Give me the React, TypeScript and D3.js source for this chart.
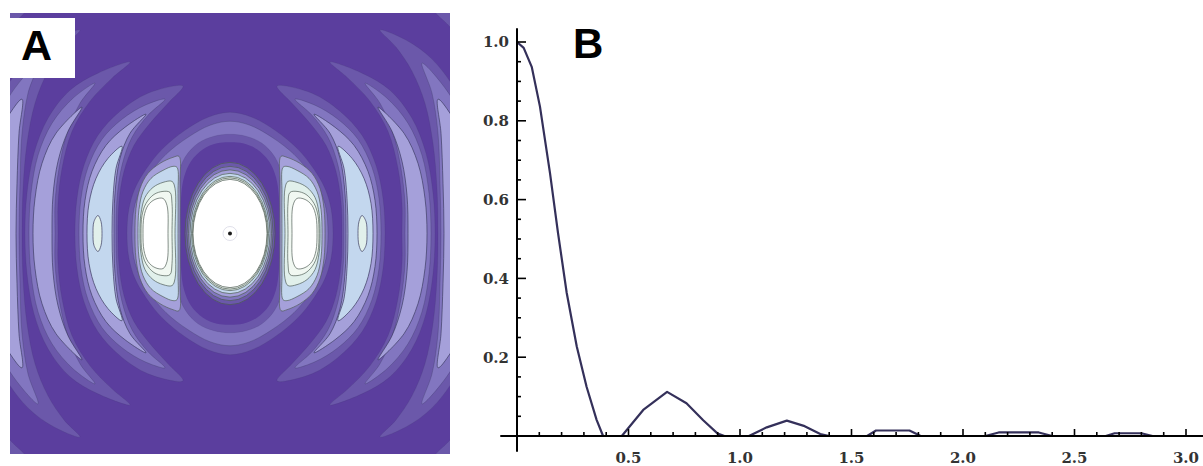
import * as d3 from 'd3';

// ---- panel A: contour bands (right half, upper quarter; mirrored when drawn)
// levels: 0 darkest .. 7 white
const levelFill = ['#5b3e9e', '#6b58aa', '#8276c0', '#a5a0da', '#c3d7ee', '#e1f0eb', '#f1f8f2', '#ffffff'];
const levelStroke = [0, 0.15, 0.3, 0.7, 0.75, 0.75, 0.75, 0.75];

type Pt = [number, number];
type Band = { level: number; pts: Pt[] };

const lobe1: Band[] = [
  { level: 3, pts: [[0.95, 0], [0.94, 0.25], [0.9, 0.45], [0.82, 0.6], [0.7, 0.7], [0.57, 0.76], [0.51, 0.77], [0.5, 0.5], [0.5, 0]] },
  { level: 4, pts: [[0.92, 0], [0.91, 0.24], [0.87, 0.42], [0.79, 0.55], [0.67, 0.63], [0.57, 0.67], [0.53, 0.66], [0.52, 0.4], [0.52, 0]] },
  { level: 5, pts: [[0.9, 0], [0.89, 0.2], [0.85, 0.36], [0.77, 0.46], [0.67, 0.51], [0.58, 0.52], [0.55, 0.45], [0.55, 0]] },
  { level: 6, pts: [[0.89, 0], [0.88, 0.18], [0.84, 0.3], [0.76, 0.39], [0.67, 0.42], [0.6, 0.41], [0.58, 0.3], [0.58, 0]] },
  { level: 7, pts: [[0.87, 0], [0.86, 0.17], [0.82, 0.28], [0.75, 0.34], [0.67, 0.35], [0.63, 0.28], [0.62, 0]] },
];

const lobe2: Band[] = [
  { level: 1, pts: [[1.55, 0], [1.53, 0.35], [1.46, 0.68], [1.32, 0.98], [1.1, 1.22], [0.82, 1.4], [0.47, 1.47], [0.62, 1.3], [0.8, 1.1], [0.96, 0.88], [1.06, 0.62], [1.11, 0.32], [1.12, 0]] },
  { level: 2, pts: [[1.51, 0], [1.49, 0.35], [1.42, 0.66], [1.28, 0.94], [1.08, 1.14], [0.85, 1.28], [0.65, 1.34], [0.82, 1.18], [0.98, 0.96], [1.08, 0.68], [1.13, 0.35], [1.14, 0]] },
  { level: 3, pts: [[1.47, 0], [1.45, 0.33], [1.38, 0.62], [1.24, 0.88], [1.05, 1.06], [0.84, 1.19], [1.0, 1.0], [1.1, 0.75], [1.15, 0.4], [1.16, 0]] },
  { level: 4, pts: [[1.43, 0], [1.41, 0.3], [1.34, 0.55], [1.22, 0.75], [1.08, 0.87], [1.14, 0.65], [1.17, 0.35], [1.18, 0]] },
  { level: 5, pts: [[1.37, 0], [1.36, 0.12], [1.32, 0.18], [1.29, 0.12], [1.28, 0]] },
];

const lobe3: Band[] = [
  { level: 1, pts: [[2.05, 0], [2.03, 0.4], [1.96, 0.8], [1.82, 1.15], [1.6, 1.43], [1.32, 1.6], [1.0, 1.71], [1.18, 1.55], [1.4, 1.32], [1.58, 1.02], [1.68, 0.65], [1.72, 0.3], [1.72, 0]] },
  { level: 2, pts: [[2.01, 0], [1.99, 0.4], [1.92, 0.78], [1.78, 1.1], [1.57, 1.35], [1.35, 1.5], [1.5, 1.3], [1.63, 1.0], [1.71, 0.65], [1.75, 0.3], [1.75, 0]] },
  { level: 3, pts: [[1.97, 0], [1.95, 0.35], [1.88, 0.7], [1.74, 1.0], [1.48, 1.26], [1.62, 1.02], [1.72, 0.72], [1.77, 0.38], [1.78, 0]] },
];

const lobe4: Band[] = [
  { level: 1, pts: [[2.55, 0], [2.52, 0.5], [2.43, 1.0], [2.26, 1.42], [2.02, 1.74], [1.76, 1.93], [1.5, 2.03], [1.66, 1.86], [1.82, 1.62], [1.95, 1.3], [2.03, 0.9], [2.07, 0.45], [2.08, 0]] },
  { level: 2, pts: [[2.5, 0], [2.47, 0.5], [2.38, 0.98], [2.2, 1.38], [1.92, 1.7], [2.02, 1.4], [2.08, 1.0], [2.1, 0.5], [2.11, 0]] },
  { level: 3, pts: [[2.45, 0], [2.42, 0.5], [2.33, 0.95], [2.2, 1.2], [2.08, 1.34], [2.11, 1.0], [2.13, 0.5], [2.14, 0]] },
];

const lobe5: Band[] = [
  { level: 1, pts: [[3.0, 0], [2.96, 0.8], [2.82, 1.45], [2.6, 1.9], [2.35, 2.15], [2.03, 2.24], [2.2, 2.06], [2.4, 1.8], [2.55, 1.4], [2.62, 0.8], [2.64, 0]] },
];

// closed rings round the centre (quarter from the x axis to the y axis)
const ringBands: Band[] = [
  { level: 1, pts: [[1.03, 0], [1.01, 0.25], [0.95, 0.45], [0.84, 0.64], [0.68, 0.84], [0.45, 1.03], [0.22, 1.16], [0, 1.21]] },
  { level: 2, pts: [[0.98, 0], [0.96, 0.25], [0.9, 0.43], [0.8, 0.6], [0.64, 0.79], [0.42, 0.96], [0.2, 1.08], [0, 1.12]] },
  { level: 1, pts: [[0.55, 0], [0.55, 0.35], [0.52, 0.58], [0.45, 0.76], [0.32, 0.9], [0.16, 0.97], [0, 0.99]] },
  { level: 0, pts: [[0.49, 0], [0.49, 0.35], [0.46, 0.56], [0.39, 0.72], [0.27, 0.84], [0.13, 0.9], [0, 0.91]] },
];

// central peak: [half width, half height, level]
const coreEllipses: [number, number, number][] = [
  [0.45, 0.71, 1], [0.43, 0.67, 2], [0.415, 0.635, 3], [0.4, 0.6, 4],
  [0.385, 0.57, 5], [0.375, 0.555, 6], [0.37, 0.54, 7],
];

// ---- panel B: intensity profile
const profileX = [0, 0.03, 0.066, 0.103, 0.148, 0.184, 0.223, 0.268, 0.312, 0.357, 0.386, 0.47, 0.566, 0.673, 0.76, 0.835, 0.9, 0.93, 1.04, 1.12, 1.21, 1.29, 1.36, 1.4, 1.57, 1.61, 1.76, 1.81, 2.1, 2.16, 2.34, 2.4, 2.64, 2.68, 2.8, 2.85, 3.0];
const profileY = [1.0, 0.985, 0.937, 0.836, 0.667, 0.515, 0.363, 0.227, 0.125, 0.041, 0, 0, 0.066, 0.112, 0.083, 0.04, 0.006, 0, 0, 0.022, 0.039, 0.025, 0.005, 0, 0, 0.014, 0.014, 0, 0, 0.009, 0.009, 0, 0, 0.007, 0.007, 0, 0];
const xTickValues = [0.5, 1.0, 1.5, 2.0, 2.5, 3.0];
const xTickLabels = ['0.5', '1.0', '1.5', '2.0', '2.5', '3.0'];
const yTickValues = [0.2, 0.4, 0.6, 0.8, 1.0];
const yTickLabels = ['0.2', '0.4', '0.6', '0.8', '1.0'];

const u = d3.scaleLinear().domain([-2.2, 2.2]).range([10, 450]);
const v = d3.scaleLinear().domain([-2.2, 2.2]).range([454, 13]);

const closedLine = d3.line<Pt>().x(d => u(d[0])).y(d => v(d[1])).curve(d3.curveCatmullRomClosed.alpha(0.5));

function lobeOutline(pts: Pt[], side: number): Pt[] {
  const lower = pts.slice(1, -1).reverse().map(([a, b]) => [a, -b] as Pt);
  return [...pts, ...lower].map(([a, b]) => [side * a, b] as Pt);
}

function ovalOutline(pts: Pt[]): Pt[] {
  const q2 = pts.slice(0, -1).reverse().map(([a, b]) => [-a, b] as Pt);
  const q3 = pts.slice(1).map(([a, b]) => [-a, -b] as Pt);
  const q4 = pts.slice(1, -1).reverse().map(([a, b]) => [a, -b] as Pt);
  return [...pts, ...q2, ...q3, ...q4];
}

function bandPath(key: string, d: string, level: number, lineColor = '#35345a') {
  return (
    <path key={key} d={d} fill={levelFill[level]} stroke={lineColor}
      strokeOpacity={levelStroke[level]} strokeWidth={0.9} />
  );
}

function ContourPanel() {
  const lobes = [lobe5, lobe4, lobe3, lobe2];
  return (
    <g>
      <defs>
        <clipPath id="clipA">
          <rect x={u(-2.2)} y={v(2.2)} width={u(2.2) - u(-2.2)} height={v(-2.2) - v(2.2)} />
        </clipPath>
      </defs>
      <g clipPath="url(#clipA)">
        <rect x={u(-2.2)} y={v(2.2)} width={u(2.2) - u(-2.2)} height={v(-2.2) - v(2.2)} fill={levelFill[0]} />
        {lobes.map((lobe, li) =>
          [1, -1].map(side =>
            lobe.map((b, bi) => bandPath(`l${li}-${side}-${bi}`, closedLine(lobeOutline(b.pts, side)) || '', b.level))
          )
        )}
        {ringBands.map((b, i) => bandPath(`r${i}`, closedLine(ovalOutline(b.pts)) || '', b.level))}
        {[1, -1].map(side =>
          lobe1.map((b, bi) => bandPath(`c-${side}-${bi}`, closedLine(lobeOutline(b.pts, side)) || '', b.level, '#4c5a52'))
        )}
        {coreEllipses.map(([a, b, lv], i) => (
          <ellipse key={`e${i}`} cx={u(0)} cy={v(0)} rx={u(a) - u(0)} ry={v(0) - v(b)}
            fill={levelFill[lv]} stroke="#4c5a52" strokeOpacity={0.8} strokeWidth={0.9} />
        ))}
        <circle cx={u(0)} cy={v(0)} r={7} fill="none" stroke="#d8d8e4" strokeWidth={0.8} />
        <circle cx={u(0)} cy={v(0)} r={2} fill="#1a1a1a" />
      </g>
      <rect x={10} y={18} width={65} height={60} fill="#ffffff" />
      <text x={21} y={60} fontFamily="'Liberation Sans', Arial, sans-serif" fontWeight="bold" fontSize={43} fill="#000">A</text>
    </g>
  );
}

function ProfilePanel() {
  const x = d3.scaleLinear().domain([0, 3]).range([517, 1186]);
  const y = d3.scaleLinear().domain([0, 1]).range([436, 42]);
  const pts = profileX.map((px, i) => [px, profileY[i]] as Pt);
  const line = d3.line<Pt>().x(d => x(d[0])).y(d => y(d[1]));
  const xMinor = x.ticks(30).filter(t => t > 0 && !xTickValues.some(m => Math.abs(m - t) < 1e-6));
  const yMinor = y.ticks(20).filter(t => t > 0 && !yTickValues.some(m => Math.abs(m - t) < 1e-6));
  const font = "'DejaVu Serif', serif";
  return (
    <g>
      <path d={line(pts) || ''} fill="none" stroke="#34305a" strokeWidth={2.2} strokeLinejoin="round" />
      <line x1={x(-0.075)} x2={1203} y1={y(0)} y2={y(0)} stroke="#000" strokeWidth={2} />
      <line x1={x(0)} x2={x(0)} y1={y(1.035)} y2={y(-0.04)} stroke="#000" strokeWidth={2} />
      {xMinor.map(t => <line key={`xm${t}`} x1={x(t)} x2={x(t)} y1={y(0)} y2={y(0) - 4} stroke="#000" strokeWidth={1.6} />)}
      {xTickValues.map((t, i) => (
        <g key={`xt${i}`}>
          <line x1={x(t)} x2={x(t)} y1={y(0)} y2={y(0) - 7} stroke="#000" strokeWidth={1.6} />
          <text x={x(t)} y={463} textAnchor="middle" fontFamily={font} fontWeight="bold" fontSize={15} fill="#333">{xTickLabels[i]}</text>
        </g>
      ))}
      {yMinor.map(t => <line key={`ym${t}`} x1={x(0)} x2={x(0) + 4} y1={y(t)} y2={y(t)} stroke="#000" strokeWidth={1.6} />)}
      {yTickValues.map((t, i) => (
        <g key={`yt${i}`}>
          <line x1={x(0)} x2={x(0) + 9} y1={y(t)} y2={y(t)} stroke="#000" strokeWidth={1.6} />
          <text x={509} y={y(t)} dy="0.36em" textAnchor="end" fontFamily={font} fontWeight="bold" fontSize={15} fill="#333">{yTickLabels[i]}</text>
        </g>
      ))}
      <text x={573} y={58} fontFamily="'Liberation Sans', Arial, sans-serif" fontWeight="bold" fontSize={42} fill="#000">B</text>
    </g>
  );
}

export default function App() {
  return (
    <svg width={1203} height={466} style={{ position: 'absolute', left: 0, top: 0, background: '#fff' }}>
      <ContourPanel />
      <ProfilePanel />
    </svg>
  );
}
